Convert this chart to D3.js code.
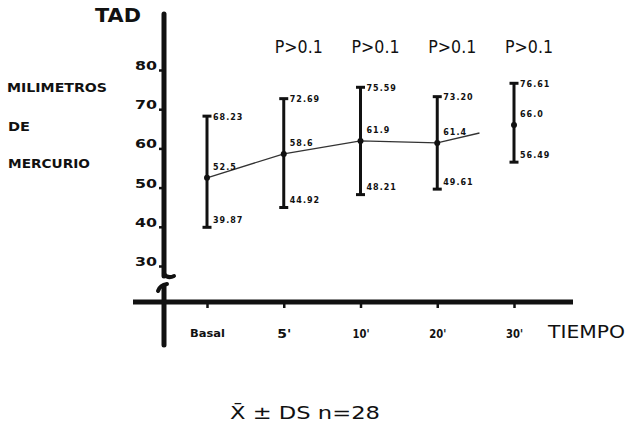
<!DOCTYPE html>
<html><head><meta charset="utf-8">
<script src="https://cdn.jsdelivr.net/npm/d3@7/dist/d3.min.js"></script>
<style>html,body{margin:0;padding:0;background:#fff;}svg{display:block;}</style>
</head><body>
<svg id="chart" width="626" height="431"></svg>
<script>
const categories = ["Basal", "5'", "10'", "20'", "30'"];
const means  = [52.5, 58.6, 61.9, 61.4, 66.0];
const upper  = [68.23, 72.69, 75.59, 73.20, 76.61];
const lower  = [39.87, 44.92, 48.21, 49.61, 56.49];
const meanLabels  = ["52.5", "58.6", "61.9", "61.4", "66.0"];
const upperLabels = ["68.23", "72.69", "75.59", "73.20", "76.61"];
const lowerLabels = ["39.87", "44.92", "48.21", "49.61", "56.49"];
const pLabels = [null, "P>0.1", "P>0.1", "P>0.1", "P>0.1"];
const yTicks = [30, 40, 50, 60, 70, 80];

const svg = d3.select("#chart");
const ink = "#111";
const x = d3.scalePoint().domain(categories).range([207, 514]);
const y = d3.scaleLinear().domain([30, 80]).range([266, 70]);
const axisX = 164, baseY = 302;

// Y axis line with break
svg.append("line").attr("x1", axisX).attr("x2", axisX).attr("y1", 14).attr("y2", 276)
  .attr("stroke", ink).attr("stroke-width", 5).attr("stroke-linecap", "round");
svg.append("path").attr("d", `M${axisX},274 q4,5 10,2`).attr("fill", "none")
  .attr("stroke", ink).attr("stroke-width", 4).attr("stroke-linecap", "round");
svg.append("path").attr("d", `M${axisX - 6},291 q2,-6 9,-7`).attr("fill", "none")
  .attr("stroke", ink).attr("stroke-width", 4).attr("stroke-linecap", "round");
svg.append("line").attr("x1", axisX).attr("x2", axisX).attr("y1", 286).attr("y2", 345)
  .attr("stroke", ink).attr("stroke-width", 5).attr("stroke-linecap", "round");

// Y ticks via axis
const yAxis = svg.append("g").attr("transform", `translate(${axisX - 2},0)`)
  .call(d3.axisLeft(y).tickValues(yTicks).tickSize(3).tickPadding(2).tickFormat(d3.format("d")));
yAxis.select(".domain").remove();
yAxis.selectAll(".tick line").attr("stroke", ink).attr("stroke-width", 2.5);
yAxis.selectAll(".tick text")
  .attr("font-family", "DejaVu Sans").attr("font-weight", "bold").attr("font-size", 12)
  .attr("fill", ink).attr("dy", "-0.05em")
  .attr("textLength", 22).attr("lengthAdjust", "spacingAndGlyphs");

// X axis
svg.append("line").attr("x1", 133).attr("x2", 573).attr("y1", baseY).attr("y2", baseY)
  .attr("stroke", ink).attr("stroke-width", 5);
const xAxis = svg.append("g").attr("transform", `translate(0,${baseY + 2})`)
  .call(d3.axisBottom(x).tickSize(4).tickPadding(21));
xAxis.select(".domain").remove();
xAxis.selectAll(".tick line").attr("stroke", ink).attr("stroke-width", 2.5);
xAxis.selectAll(".tick text")
  .attr("font-family", "DejaVu Sans").attr("font-weight", "bold").attr("fill", ink)
  .attr("font-size", d => d === "Basal" ? 11 : 13)
  .attr("textLength", d => d === "Basal" ? 35 : (d === "5'" ? 14 : 17))
  .attr("lengthAdjust", "spacingAndGlyphs");

// Mean line
const pts = categories.map((c, i) => [x(c), y(means[i])]);
const lineData = pts.slice(0, 4);
const last = pts[3], nxt = pts[4];
lineData.push([last[0] + (nxt[0] - last[0]) * 0.55, last[1] + (nxt[1] - last[1]) * 0.55]);
svg.append("path").attr("d", d3.line()(lineData)).attr("fill", "none")
  .attr("stroke", "#333").attr("stroke-width", 1.3);

// Error bars
const g = svg.append("g");
categories.forEach((c, i) => {
  const cx = x(c);
  g.append("line").attr("x1", cx).attr("x2", cx).attr("y1", y(upper[i])).attr("y2", y(lower[i]))
    .attr("stroke", ink).attr("stroke-width", 3);
  [upper[i], lower[i]].forEach(v => {
    g.append("line").attr("x1", cx - 4.5).attr("x2", cx + 4.5).attr("y1", y(v)).attr("y2", y(v))
      .attr("stroke", ink).attr("stroke-width", 3);
  });
  g.append("circle").attr("cx", cx).attr("cy", y(means[i])).attr("r", 3).attr("fill", ink);
  const lbl = (t, yy) => g.append("text").attr("x", cx + 6).attr("y", yy).text(t)
    .attr("font-family", "DejaVu Sans").attr("font-weight", "bold").attr("font-size", 8)
    .attr("letter-spacing", 1).attr("fill", ink).attr("dominant-baseline", "middle");
  lbl(upperLabels[i], y(upper[i]) + 1);
  lbl(meanLabels[i], y(means[i]) - 10);
  lbl(lowerLabels[i], y(lower[i]) - 7);
  if (pLabels[i]) {
    g.append("text").attr("x", cx - 9).attr("y", 53).text(pLabels[i])
      .attr("font-family", "DejaVu Sans").attr("font-size", 18).attr("fill", ink)
      .attr("textLength", 48).attr("lengthAdjust", "spacingAndGlyphs");
  }
});

// Texts
const txt = (t, xx, yy, size, weight, len) => svg.append("text").attr("x", xx).attr("y", yy).text(t)
  .attr("font-family", "DejaVu Sans").attr("font-size", size).attr("font-weight", weight)
  .attr("fill", ink).attr("textLength", len).attr("lengthAdjust", "spacingAndGlyphs");
txt("TAD", 95, 22, 19, "bold", 46);
txt("MILIMETROS", 7, 92, 13, "bold", 100);
txt("DE", 8, 131, 13, "bold", 22);
txt("MERCURIO", 8, 168, 13, "bold", 82);
txt("TIEMPO", 548, 338, 17, "normal", 77);
txt("X\u0304 \u00B1 DS  n=28", 230, 419, 17, "normal", 150);
</script>
</body></html>
